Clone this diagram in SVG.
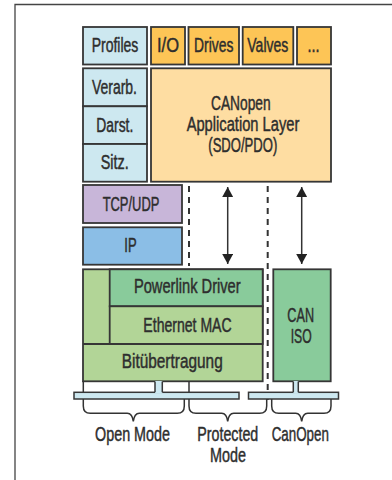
<svg xmlns="http://www.w3.org/2000/svg" width="392" height="480" viewBox="0 0 392 480">
  <defs>
    <style>
      .box { stroke: #363636; stroke-width: 1.8; }
      .lb { fill: #cde8f0; }
      .or { fill: #fdc556; }
      .lo { fill: #fedda2; }
      .pu { fill: #c8b6d9; }
      .bl { fill: #8bbee6; }
      .gd { fill: #89cb9b; }
      .gl { fill: #b2d597; }
      text { font-family: "Liberation Sans", Arial, sans-serif; font-size: 19.5px; fill: #2e2e2e; stroke: #2e2e2e; stroke-width: 0.45; text-anchor: middle; }
      .dash { stroke: #333; stroke-width: 2; stroke-dasharray: 6 5; fill: none; }
      .arr { stroke: #333; stroke-width: 1.5; fill: none; }
      .brace { stroke: #333; stroke-width: 1.5; fill: none; }
    </style>
    <marker id="head" viewBox="0 0 10 11" refX="10" refY="5.5" markerWidth="10" markerHeight="11" markerUnits="userSpaceOnUse" orient="auto-start-reverse">
      <path d="M0,0 L10,5.5 L0,11 Z" fill="#222"/>
    </marker>
  </defs>

  <!-- frame -->
  <path d="M15,480 V4.5 H392" fill="none" stroke="#444" stroke-width="1.3"/>

  <!-- connectors: mode separators and data-flow arrows -->
  <g id="connectors">
    <line class="dash" x1="189" y1="186" x2="189" y2="266"/>
    <line class="dash" x1="267.7" y1="186" x2="267.7" y2="400"/>
    <line class="arr" x1="227.7" y1="187" x2="227.7" y2="264" marker-start="url(#head)" marker-end="url(#head)"/>
    <line class="arr" x1="301.7" y1="187" x2="301.7" y2="264" marker-start="url(#head)" marker-end="url(#head)"/>
  </g>

  <!-- top row -->
  <g id="profiles"><rect class="box lb" x="83" y="27" width="64" height="37.5"/><text x="115" y="51.7" textLength="46.7" lengthAdjust="spacingAndGlyphs">Profiles</text></g>
  <g id="io"><rect class="box or" x="151" y="27" width="34" height="37.5"/><text x="168" y="51.7" textLength="22" lengthAdjust="spacingAndGlyphs">I/O</text></g>
  <g id="drives"><rect class="box or" x="188.5" y="27" width="50.5" height="37.5"/><text x="213.7" y="51.7" textLength="39.3" lengthAdjust="spacingAndGlyphs">Drives</text></g>
  <g id="valves"><rect class="box or" x="242.7" y="27" width="50.6" height="37.5"/><text x="267.8" y="51.7" textLength="41" lengthAdjust="spacingAndGlyphs">Valves</text></g>
  <g id="more"><rect class="box or" x="297" y="27" width="34" height="37.5"/><text x="313.5" y="51.7" textLength="12" lengthAdjust="spacingAndGlyphs">...</text></g>

  <!-- presentation column -->
  <g id="verarb"><rect class="box lb" x="83" y="68.3" width="64" height="38"/><text x="114.5" y="94.3" textLength="45" lengthAdjust="spacingAndGlyphs">Verarb.</text></g>
  <g id="darst"><rect class="box lb" x="83" y="106.3" width="64" height="37.7"/><text x="114.8" y="131.5" textLength="37" lengthAdjust="spacingAndGlyphs">Darst.</text></g>
  <g id="sitz"><rect class="box lb" x="83" y="144" width="64" height="37.7"/><text x="114.7" y="169" textLength="28" lengthAdjust="spacingAndGlyphs">Sitz.</text></g>

  <!-- application layer -->
  <g id="canopen-app">
    <rect class="box lo" x="151" y="68.3" width="180" height="113.4"/>
    <text x="240.8" y="109.5" textLength="59.7" lengthAdjust="spacingAndGlyphs">CANopen</text>
    <text x="243" y="130.7" textLength="112.7" lengthAdjust="spacingAndGlyphs">Application Layer</text>
    <text x="242.8" y="151.7" textLength="69" lengthAdjust="spacingAndGlyphs">(SDO/PDO)</text>
  </g>

  <!-- transport / network -->
  <g id="tcpudp"><rect class="box pu" x="83" y="185" width="99" height="38"/><text x="131" y="211" textLength="56.7" lengthAdjust="spacingAndGlyphs">TCP/UDP</text></g>
  <g id="ip"><rect class="box bl" x="83" y="227.3" width="99" height="37.4"/><text x="130.5" y="251.7" textLength="12.3" lengthAdjust="spacingAndGlyphs">IP</text></g>

  <!-- Powerlink stack -->
  <g id="powerlink">
    <rect class="box gl" x="83" y="269.3" width="179.7" height="112"/>
    <rect class="box gd" x="109.7" y="269.3" width="153" height="37"/>
    <rect class="box gl" x="109.7" y="306.3" width="153" height="37.7"/>
    <line class="box" x1="83" y1="344" x2="262.7" y2="344"/>
    <text x="187.3" y="293.3" textLength="106.7" lengthAdjust="spacingAndGlyphs">Powerlink Driver</text>
    <text x="187.5" y="331.7" textLength="88.3" lengthAdjust="spacingAndGlyphs">Ethernet MAC</text>
    <text x="172.2" y="367.5" textLength="101" lengthAdjust="spacingAndGlyphs">Bitübertragung</text>
  </g>

  <!-- CAN -->
  <g id="caniso">
    <rect class="box gd" x="273.3" y="269.3" width="57.4" height="112"/>
    <text x="300.7" y="322" textLength="26.7" lengthAdjust="spacingAndGlyphs">CAN</text>
    <text x="301.2" y="343.3" textLength="21" lengthAdjust="spacingAndGlyphs">ISO</text>
  </g>

  <!-- bus lines -->
  <g id="bus">
    <line class="brace" x1="83.3" y1="381" x2="83.3" y2="393"/>
    <line class="brace" x1="189" y1="381" x2="189" y2="393"/>
    <rect x="74" y="392.3" width="165" height="6.7" fill="#cde8f0" stroke="#363636" stroke-width="1.5"/>
    <rect x="248.5" y="392.3" width="90" height="6.7" fill="#cde8f0" stroke="#363636" stroke-width="1.5"/>
    <rect x="155" y="381" width="7.3" height="12.2" fill="#cde8f0"/>
    <path d="M155,381.5 V392.3 M162.3,381.5 V392.3" stroke="#363636" stroke-width="1.5"/>
    <rect x="293.3" y="381" width="5" height="12.2" fill="#cde8f0"/>
    <path d="M293.3,381.5 V392.3 M298.3,381.5 V392.3" stroke="#363636" stroke-width="1.5"/>
  </g>

  <!-- mode braces, labels narrowed by a horizontal scale -->
  <g id="open-mode">
    <path class="brace" d="M83.3,399 V406 Q83.3,413.3 90.3,413.3 H127.3 Q132.3,413.3 133.3,421.5 Q134.3,413.3 139.3,413.3 H177.3 Q184.3,413.3 184.3,406 V399"/>
    <text transform="translate(132.5,441) scale(0.736,1)" textLength="101.9" lengthAdjust="spacingAndGlyphs">Open Mode</text>
  </g>
  <g id="protected-mode">
    <path class="brace" d="M189,399 V406 Q189,413.3 196,413.3 H221.7 Q226.7,413.3 227.7,421.5 Q228.7,413.3 233.7,413.3 H259.7 Q266.7,413.3 266.7,406 V399"/>
    <text transform="translate(227.8,441) scale(0.72,1)" textLength="84.7" lengthAdjust="spacingAndGlyphs">Protected</text>
    <text transform="translate(228,461.7) scale(0.738,1)" textLength="48.8" lengthAdjust="spacingAndGlyphs">Mode</text>
  </g>
  <g id="canopen-mode">
    <path class="brace" d="M271.7,399 V406 Q271.7,413.3 278.7,413.3 H295.7 Q300.7,413.3 301.7,421.5 Q302.7,413.3 307.7,413.3 H324 Q331,413.3 331,406 V399"/>
    <text transform="translate(300.3,441) scale(0.69,1)" textLength="83" lengthAdjust="spacingAndGlyphs">CanOpen</text>
  </g>
</svg>
